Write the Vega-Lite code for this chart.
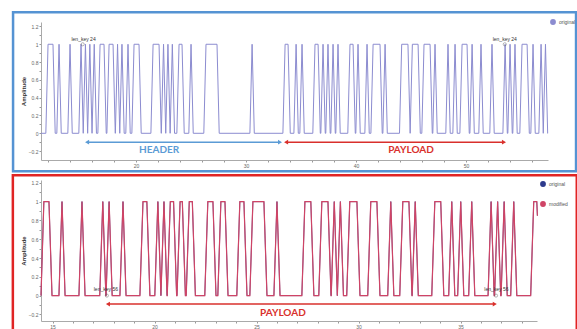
{
  "$schema": "https://vega.github.io/schema/vega-lite/v6.json",
  "background": "white",
  "padding": {"left": 11, "top": 10, "right": 0, "bottom": 0},
  "spacing": 1,
  "config": {
    "font": "Liberation Sans",
    "view": {"stroke": null},
    "axis": {"grid": false, "labelFontSize": 5, "labelColor": "#666", "tickColor": "#999", "domainColor": "#aaa", "tickSize": 2, "labelPadding": 1, "titleFontSize": 6, "titleColor": "#333", "titleFontWeight": "bold"}
  },
  "resolve": {"scale": {"color": "independent", "fill": "independent", "shape": "independent", "stroke": "independent"}, "legend": {"color": "independent"}},
  "vconcat": [
    {
      "width": 507,
      "height": 138,
      "encoding": {
        "x": {"field": "t", "type": "quantitative", "scale": {"domain": [11.36, 57.45], "nice": false, "zero": false},
              "axis": {"title": null, "values": [12,14,16,18,20,22,24,26,28,30,32,34,36,38,40,42,44,46,48,50,52,54,56], "labelExpr": "datum.value % 10 == 0 ? datum.label : ''"}},
        "y": {"field": "a", "type": "quantitative", "scale": {"domain": [-0.3, 1.25], "nice": false, "zero": false},
              "axis": {"title": "Amplitude", "titlePadding": 2, "format": "~g", "values": [-0.2,-0.1,0,0.1,0.2,0.3,0.4,0.5,0.6,0.7,0.8,0.9,1,1.1,1.2], "labelExpr": "abs(round(datum.value*10)) % 2 == 0 ? datum.label : ''"}}
      },
      "layer": [
        {
          "data": {"values": [{"t": 8.82, "t2": 60.0, "a": -0.427, "a2": 1.36}]},
          "mark": {"type": "rect", "fill": null, "stroke": "#5593d3", "strokeWidth": 2.5},
          "encoding": {"x2": {"field": "t2"}, "y2": {"field": "a2"}}
        },
        {
          "data": {"values": [
            {"t":11.36,"a":0},{"t":11.8,"a":0},{"t":12.0,"a":1},{"t":12.45,"a":1},{"t":12.65,"a":0},
            {"t":12.8,"a":0},{"t":13.0,"a":1},{"t":13.2,"a":0},{"t":13.8,"a":0},{"t":14.0,"a":1},{"t":14.2,"a":0},
            {"t":14.8,"a":0},{"t":15.0,"a":1},{"t":15.2,"a":0},{"t":15.4,"a":1},{"t":15.6,"a":0},{"t":15.8,"a":1},{"t":16.0,"a":0},
            {"t":16.2,"a":1},{"t":16.4,"a":0},{"t":16.53,"a":0},{"t":16.73,"a":1},{"t":17.09,"a":1},{"t":17.29,"a":0},
            {"t":17.35,"a":0},{"t":17.55,"a":1},{"t":17.91,"a":1},{"t":18.11,"a":0},{"t":18.12,"a":0},{"t":18.32,"a":1},{"t":18.52,"a":0},
            {"t":18.72,"a":1},{"t":18.92,"a":0},{"t":19.07,"a":0},{"t":19.27,"a":1},{"t":19.47,"a":0},
            {"t":19.62,"a":0},{"t":19.82,"a":1},{"t":20.27,"a":1},{"t":20.47,"a":0},
            {"t":21.35,"a":0},{"t":21.55,"a":1},{"t":22.09,"a":1},{"t":22.29,"a":0},
            {"t":22.3,"a":0},{"t":22.5,"a":1},{"t":22.7,"a":0},{"t":22.9,"a":1},{"t":23.1,"a":0},{"t":23.3,"a":1},{"t":23.5,"a":0},
            {"t":23.71,"a":0},{"t":23.91,"a":1},{"t":24.18,"a":1},{"t":24.38,"a":0},
            {"t":24.8,"a":0},{"t":25.0,"a":1},{"t":25.2,"a":0},
            {"t":26.16,"a":0},{"t":26.36,"a":1},{"t":27.36,"a":1},{"t":27.56,"a":0},
            {"t":30.35,"a":0},{"t":30.55,"a":1},{"t":30.75,"a":0},
            {"t":33.35,"a":0},{"t":33.55,"a":1},{"t":33.82,"a":1},{"t":34.02,"a":0},
            {"t":34.35,"a":0},{"t":34.55,"a":1},{"t":34.75,"a":0},{"t":34.89,"a":0},{"t":35.09,"a":1},{"t":35.29,"a":0},
            {"t":36.07,"a":0},{"t":36.27,"a":1},{"t":36.55,"a":1},{"t":36.75,"a":0},
            {"t":36.8,"a":0},{"t":37.0,"a":1},{"t":37.2,"a":0},{"t":37.25,"a":0},{"t":37.45,"a":1},{"t":37.65,"a":0},
            {"t":37.71,"a":0},{"t":37.91,"a":1},{"t":38.11,"a":0},{"t":38.16,"a":0},{"t":38.36,"a":1},{"t":38.56,"a":0},
            {"t":39.25,"a":0},{"t":39.45,"a":1},{"t":39.73,"a":1},{"t":39.93,"a":0},
            {"t":39.98,"a":0},{"t":40.18,"a":1},{"t":40.38,"a":0},{"t":40.8,"a":0},{"t":41.0,"a":1},{"t":41.2,"a":0},
            {"t":41.35,"a":0},{"t":41.55,"a":1},{"t":42.18,"a":1},{"t":42.38,"a":0},
            {"t":42.44,"a":0},{"t":42.64,"a":1},{"t":42.84,"a":0},
            {"t":43.95,"a":0},{"t":44.15,"a":1},{"t":44.72,"a":1},{"t":44.92,"a":0},
            {"t":45.12,"a":1},{"t":45.64,"a":1},{"t":45.84,"a":0},
            {"t":45.98,"a":0},{"t":46.18,"a":1},{"t":46.73,"a":1},{"t":46.93,"a":0},
            {"t":46.98,"a":0},{"t":47.18,"a":1},{"t":47.38,"a":0},
            {"t":48.16,"a":0},{"t":48.36,"a":1},{"t":48.56,"a":0},{"t":48.8,"a":0},{"t":49.0,"a":1},{"t":49.2,"a":0},
            {"t":49.44,"a":0},{"t":49.64,"a":1},{"t":50.09,"a":1},{"t":50.29,"a":0},
            {"t":50.35,"a":0},{"t":50.55,"a":1},{"t":50.75,"a":0},{"t":51.16,"a":0},{"t":51.36,"a":1},{"t":51.56,"a":0},
            {"t":52.16,"a":0},{"t":52.36,"a":1},{"t":52.56,"a":0},
            {"t":53.35,"a":0},{"t":53.55,"a":1},{"t":53.75,"a":0},{"t":53.8,"a":0},{"t":54.0,"a":1},{"t":54.2,"a":0},
            {"t":54.25,"a":0},{"t":54.45,"a":1},{"t":54.65,"a":0},
            {"t":54.89,"a":0},{"t":55.09,"a":1},{"t":55.55,"a":1},{"t":55.75,"a":0},
            {"t":55.89,"a":0},{"t":56.09,"a":1},{"t":56.29,"a":0},{"t":56.62,"a":0},{"t":56.82,"a":1},{"t":57.02,"a":0},
            {"t":57.22,"a":1},{"t":57.42,"a":0},{"t":57.45,"a":0}
          ]},
          "mark": {"type": "line", "strokeWidth": 1, "interpolate": "linear"},
          "encoding": {
            "color": {"datum": "original", "type": "nominal",
                      "scale": {"domain": ["original"], "range": ["#8c8cd0"]},
                      "legend": {"orient": "none", "legendX": 509, "legendY": -3, "title": null, "symbolType": "circle", "symbolSize": 8, "symbolStrokeWidth": 3, "symbolStrokeColor": "#3a3f94", "labelFontSize": 5, "labelColor": "#555", "padding": 0, "labelOffset": 3}}
          }
        },
        {
          "data": {"values": [{"t": 15.55, "t2": 33.09, "a": -0.1, "part": "HEADER"}, {"t": 33.64, "t2": 53.45, "a": -0.1, "part": "PAYLOAD"}]},
          "mark": {"type": "rule", "strokeWidth": 1.5},
          "encoding": {"x2": {"field": "t2"}, "stroke": {"field": "part", "type": "nominal", "scale": {"domain": ["HEADER", "PAYLOAD"], "range": ["#5b9bd5", "#d9302c"]}, "legend": null}}
        },
        {
          "data": {"values": [
            {"t": 15.55, "a": -0.1, "part": "HEADER", "dir": "left"},
            {"t": 33.09, "a": -0.1, "part": "HEADER", "dir": "right"},
            {"t": 33.64, "a": -0.1, "part": "PAYLOAD", "dir": "left"},
            {"t": 53.45, "a": -0.1, "part": "PAYLOAD", "dir": "right"}
          ]},
          "mark": {"type": "point", "filled": true, "opacity": 1, "size": 22},
          "encoding": {
            "shape": {"field": "dir", "type": "nominal", "scale": {"domain": ["left", "right"], "range": ["triangle-left", "triangle-right"]}, "legend": null},
            "fill": {"field": "part", "type": "nominal", "scale": {"domain": ["HEADER", "PAYLOAD"], "range": ["#5b9bd5", "#d9302c"]}, "legend": null}
          }
        },
        {
          "data": {"values": [{"t": 22.1, "a": -0.19, "part": "HEADER"}, {"t": 45.0, "a": -0.19, "part": "PAYLOAD"}]},
          "mark": {"type": "text", "font": "Lato", "fontWeight": "bold", "fontSize": 10, "baseline": "middle", "align": "center"},
          "encoding": {"text": {"field": "part"}, "fill": {"field": "part", "type": "nominal", "scale": {"domain": ["HEADER", "PAYLOAD"], "range": ["#5b9bd5", "#d9302c"]}, "legend": null}}
        },
        {
          "data": {"values": [{"t": 15.15, "a": 1.0}, {"t": 53.52, "a": 1.0}]},
          "mark": {"type": "point", "shape": "circle", "size": 10, "color": "#555", "strokeWidth": 0.6, "filled": false}
        },
        {
          "data": {"values": [{"t": 15.23, "a": 1.064, "label": "len_key 24"}, {"t": 53.52, "a": 1.064, "label": "len_key 24"}]},
          "mark": {"type": "text", "fontSize": 5, "color": "#333", "baseline": "middle", "align": "center"},
          "encoding": {"text": {"field": "label"}}
        }
      ]
    },
    {
      "width": 496,
      "height": 141,
      "encoding": {
        "x": {"field": "t", "type": "quantitative", "scale": {"domain": [14.43, 38.75], "nice": false, "zero": false},
              "axis": {"title": null, "values": [15,16,17,18,19,20,21,22,23,24,25,26,27,28,29,30,31,32,33,34,35,36,37,38], "labelExpr": "datum.value % 5 == 0 ? datum.label : ''"}},
        "y": {"field": "a", "type": "quantitative", "scale": {"domain": [-0.27, 1.23], "nice": false, "zero": false},
              "axis": {"title": "Amplitude", "titlePadding": 2, "format": "~g", "values": [-0.2,-0.1,0,0.1,0.2,0.3,0.4,0.5,0.6,0.7,0.8,0.9,1,1.1,1.2], "labelExpr": "abs(round(datum.value*10)) % 2 == 0 ? datum.label : ''"}}
      },
      "layer": [
        {
          "data": {"values": [{"t": 13.05, "t2": 40.70, "a": -0.369, "a2": 1.28}]},
          "mark": {"type": "rect", "fill": null, "stroke": "#e02424", "strokeWidth": 2.5},
          "encoding": {"x2": {"field": "t2"}, "y2": {"field": "a2"}}
        },
        {
          "data": {"name": "bottom"},
          "mark": {"type": "line", "strokeWidth": 0.8},
          "encoding": {
            "color": {"datum": "original", "type": "nominal",
                      "scale": {"domain": ["original", "modified"], "range": ["#2d3a8c", "#cf4466"]},
                      "legend": {"orient": "none", "legendX": 499, "legendY": 1, "title": null, "symbolType": "circle", "symbolSize": 8, "symbolStrokeWidth": 3, "labelFontSize": 5, "labelColor": "#555", "padding": 0, "rowPadding": 4, "labelOffset": 3}}
          }
        },
        {
          "data": {"name": "bottom"},
          "mark": {"type": "line", "strokeWidth": 1.2},
          "encoding": {"color": {"datum": "modified", "type": "nominal"}}
        },
        {
          "data": {"values": [{"t": 17.71, "t2": 36.68, "a": -0.09}]},
          "mark": {"type": "rule", "strokeWidth": 1.5, "color": "#d9302c"},
          "encoding": {"x2": {"field": "t2"}}
        },
        {
          "data": {"values": [{"t": 17.71, "a": -0.09, "dir": "left"}, {"t": 36.68, "a": -0.09, "dir": "right"}]},
          "mark": {"type": "point", "filled": true, "opacity": 1, "size": 22, "color": "#d9302c"},
          "encoding": {"shape": {"field": "dir", "type": "nominal", "scale": {"domain": ["left", "right"], "range": ["triangle-left", "triangle-right"]}, "legend": null}}
        },
        {
          "data": {"values": [{"t": 26.29, "a": -0.185, "part": "PAYLOAD"}]},
          "mark": {"type": "text", "font": "Lato", "fontWeight": "bold", "fontSize": 10, "baseline": "middle", "align": "center", "color": "#d9302c"},
          "encoding": {"text": {"field": "part"}}
        },
        {
          "data": {"values": [{"t": 17.66, "a": 0}, {"t": 36.74, "a": 0}]},
          "mark": {"type": "point", "shape": "circle", "size": 10, "color": "#555", "strokeWidth": 0.6, "filled": false}
        },
        {
          "data": {"values": [{"t": 17.61, "a": 0.067, "label": "len_key 56"}, {"t": 36.76, "a": 0.067, "label": "len_key 56"}]},
          "mark": {"type": "text", "fontSize": 5, "color": "#333", "baseline": "middle", "align": "center"},
          "encoding": {"text": {"field": "label"}}
        }
      ]
    }
  ],
  "datasets": {
    "bottom": [
      {"t":14.43,"a":0},{"t":14.57,"a":1},{"t":14.82,"a":1},{"t":14.97,"a":0},
      {"t":15.31,"a":0},{"t":15.46,"a":1},{"t":15.61,"a":0},
      {"t":16.29,"a":0},{"t":16.44,"a":1},{"t":16.59,"a":0},
      {"t":17.31,"a":0},{"t":17.46,"a":1},{"t":17.61,"a":0},
      {"t":17.62,"a":0},{"t":17.77,"a":1},{"t":17.92,"a":0},
      {"t":18.30,"a":0},{"t":18.45,"a":1},{"t":18.60,"a":0},
      {"t":19.28,"a":0},{"t":19.43,"a":1},{"t":19.62,"a":1},{"t":19.77,"a":0},
      {"t":20.01,"a":0},{"t":20.16,"a":1},{"t":20.31,"a":0},
      {"t":20.46,"a":1},{"t":20.61,"a":0},
      {"t":20.62,"a":0},{"t":20.77,"a":1},{"t":20.93,"a":1},{"t":21.08,"a":0},
      {"t":21.10,"a":0},{"t":21.25,"a":1},{"t":21.36,"a":1},{"t":21.51,"a":0},
      {"t":21.55,"a":0},{"t":21.70,"a":1},{"t":21.85,"a":1},{"t":22.00,"a":0},
      {"t":22.46,"a":0},{"t":22.61,"a":1},{"t":22.86,"a":1},{"t":23.01,"a":0},
      {"t":23.10,"a":0},{"t":23.25,"a":1},{"t":23.45,"a":1},{"t":23.60,"a":0},
      {"t":24.03,"a":0},{"t":24.18,"a":1},{"t":24.38,"a":1},{"t":24.53,"a":0},
      {"t":24.67,"a":0},{"t":24.82,"a":1},{"t":25.36,"a":1},{"t":25.51,"a":0},
      {"t":25.85,"a":0},{"t":26.00,"a":1},{"t":26.15,"a":0},
      {"t":27.22,"a":0},{"t":27.37,"a":1},{"t":27.66,"a":1},{"t":27.81,"a":0},
      {"t":28.05,"a":0},{"t":28.20,"a":1},{"t":28.50,"a":1},{"t":28.65,"a":0},
      {"t":28.66,"a":0},{"t":28.81,"a":1},{"t":28.96,"a":0},
      {"t":29.11,"a":1},{"t":29.26,"a":0},
      {"t":29.42,"a":0},{"t":29.57,"a":1},{"t":29.92,"a":1},{"t":30.07,"a":0},
      {"t":30.45,"a":0},{"t":30.60,"a":1},{"t":30.90,"a":1},{"t":31.05,"a":0},
      {"t":31.43,"a":0},{"t":31.58,"a":1},{"t":31.73,"a":0},
      {"t":32.02,"a":0},{"t":32.17,"a":1},{"t":32.47,"a":1},{"t":32.62,"a":0},
      {"t":32.63,"a":0},{"t":32.78,"a":1},{"t":32.93,"a":0},
      {"t":33.59,"a":0},{"t":33.74,"a":1},{"t":34.03,"a":1},{"t":34.18,"a":0},
      {"t":34.42,"a":0},{"t":34.57,"a":1},{"t":34.72,"a":0},
      {"t":34.86,"a":0},{"t":35.01,"a":1},{"t":35.16,"a":0},
      {"t":35.40,"a":0},{"t":35.55,"a":1},{"t":35.70,"a":0},
      {"t":36.35,"a":0},{"t":36.50,"a":1},{"t":36.65,"a":0},
      {"t":36.67,"a":0},{"t":36.82,"a":1},{"t":36.97,"a":0},
      {"t":36.99,"a":0},{"t":37.14,"a":1},{"t":37.29,"a":0},
      {"t":37.46,"a":0},{"t":37.61,"a":1},{"t":37.76,"a":0},
      {"t":38.44,"a":0},{"t":38.59,"a":1},{"t":38.74,"a":1},{"t":38.77,"a":0.85}
    ]
  }
}
